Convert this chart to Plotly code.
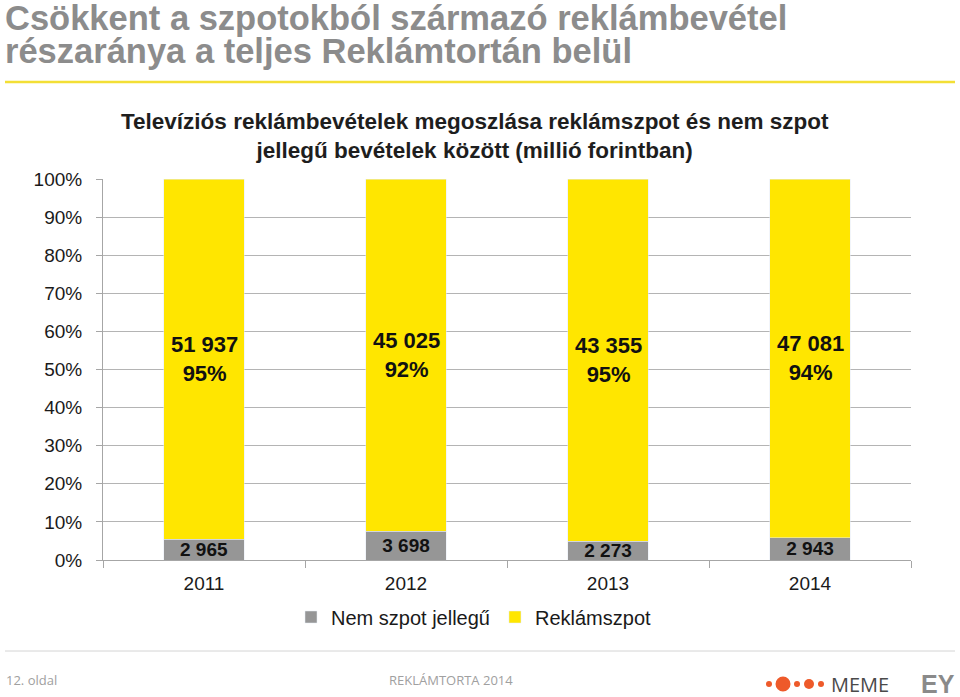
import plotly.graph_objects as go

years = ["2011", "2012", "2013", "2014"]
nem_szpot = [2965, 3698, 2273, 2943]
reklamszpot = [51937, 45025, 43355, 47081]

GRAY = "#969696"
YELLOW = "#FFE600"

def fmt(v):
    return f"{v:,}".replace(",", " ")

totals = [a + b for a, b in zip(nem_szpot, reklamszpot)]
gray_pct = [100 * n / t for n, t in zip(nem_szpot, totals)]
yellow_text = [f"{fmt(r)}<br>{round(100 * r / t)}%" for r, t in zip(reklamszpot, totals)]
gray_text = [fmt(n) for n in nem_szpot]

L, R, T, B = 103, 49, 179, 137
W, H = 960, 697
PW, PH = W - L - R, H - T - B

def px(x):
    return (x - L) / PW

def py(y):
    return (H - B - y) / PH

fig = go.Figure()
fig.add_trace(go.Bar(
    x=years, y=nem_szpot, name="Nem szpot jellegű", marker_color=GRAY,
    text=gray_text, textposition="inside", insidetextanchor="middle",
    constraintext="none", textangle=0,
    insidetextfont=dict(family="Liberation Sans", size=19, color="#111111", weight="bold"),
))
fig.add_trace(go.Bar(
    x=years, y=reklamszpot, name="Reklámszpot", marker_color=YELLOW,
))

# Labels for the yellow segments, centred in each segment (category index on x)
for i, (gp, txt) in enumerate(zip(gray_pct, yellow_text)):
    fig.add_annotation(
        xref="x", yref="y", x=i, y=(gp + 100) / 2, text=f"<b>{txt}</b>", showarrow=False,
        font=dict(family="Liberation Sans", size=22, color="#111111"), align="center",
        xanchor="center", yanchor="middle",
    )

fig.update_layout(
    barmode="stack", barnorm="percent", bargap=0.6,
    width=W, height=H,
    margin=dict(l=L, r=R, t=T, b=B),
    paper_bgcolor="white", plot_bgcolor="white",
    font=dict(family="Liberation Sans", color="#1a1a1a"),
    showlegend=True,
    legend=dict(orientation="h", x=px(474), xanchor="center",
                y=py(617), yanchor="middle", font=dict(size=20, color="#1a1a1a"),
                itemwidth=30, traceorder="normal"),
    xaxis=dict(
        type="category", categoryorder="array", categoryarray=years,
        range=[-0.5, len(years) - 0.5],
        showline=True, linecolor="#a6a6a6", linewidth=1,
        ticks="outside", ticklen=7, tickcolor="#a6a6a6", tickson="boundaries",
        tickfont=dict(size=19, color="#1a1a1a"), showgrid=False, ticklabelstandoff=6,
    ),
    yaxis=dict(
        range=[0, 100], dtick=10, ticksuffix="%", showline=True, linecolor="#a6a6a6",
        ticks="outside", ticklen=6, tickcolor="#a6a6a6",
        gridcolor="#b4b4b4", gridwidth=1,
        tickfont=dict(size=19, color="#1a1a1a"), zeroline=False, ticklabelstandoff=10,
    ),
)

# Chart subtitle
fig.add_annotation(
    xref="paper", yref="paper", x=px(475), y=py(136), xanchor="center", yanchor="middle",
    text="<b>Televíziós reklámbevételek megoszlása reklámszpot és nem szpot<br>jellegű bevételek között (millió forintban)</b>",
    showarrow=False, font=dict(family="Liberation Sans", size=22.5, color="#1e1e1e"), align="center",
)
# Main title (two lines, tight line spacing)
for txt, yc in [("Csökkent a szpotokból származó reklámbevétel", 18),
                ("részaránya a teljes Reklámtortán belül", 51)]:
    fig.add_annotation(
        xref="paper", yref="paper", x=px(3), y=py(yc), xanchor="left", yanchor="middle",
        text=f"<b>{txt}</b>", showarrow=False,
        font=dict(family="Liberation Sans", size=34.5, color="#8c8c8c"), align="left",
    )
# Yellow rule under title
fig.add_shape(type="line", xref="paper", yref="paper", x0=px(5), x1=px(955), y0=py(82), y1=py(82),
              line=dict(color="#f3df35", width=2.5))
# Footer rule
fig.add_shape(type="line", xref="paper", yref="paper", x0=px(5), x1=px(955), y0=py(651), y1=py(651),
              line=dict(color="#d4d4d4", width=1))
# Footer texts
fig.add_annotation(xref="paper", yref="paper", x=px(4), y=py(680), xanchor="left", yanchor="middle",
                   text="12. oldal", showarrow=False, font=dict(family="Open Sans", size=13, color="#a0a0a0"))
fig.add_annotation(xref="paper", yref="paper", x=px(451), y=py(680), xanchor="center", yanchor="middle",
                   text="REKLÁMTORTA 2014", showarrow=False, font=dict(family="Open Sans", size=13, color="#a0a0a0"))
# MEME logo dots
ORANGE = "#ee5a2a"
for cx, r in [(769, 3), (783, 7.5), (797, 3), (809, 5), (821, 3)]:
    fig.add_shape(type="circle", xref="paper", yref="paper",
                  x0=px(cx - r), x1=px(cx + r), y0=py(684 + r), y1=py(684 - r),
                  fillcolor=ORANGE, line=dict(width=0))
fig.add_annotation(xref="paper", yref="paper", x=px(829), y=py(684), xanchor="left", yanchor="middle",
                   text="MEME", showarrow=False, font=dict(family="Open Sans", size=20, color="#4a4a4a"))
fig.add_annotation(xref="paper", yref="paper", x=px(957), y=py(684), xanchor="right", yanchor="middle",
                   text="<b>EY</b>", showarrow=False, font=dict(family="Liberation Sans", size=25, color="#8a8a8a"))

fig.write_html("out.html", config={"displayModeBar": False},
               post_script="document.body.style.margin='0';")
